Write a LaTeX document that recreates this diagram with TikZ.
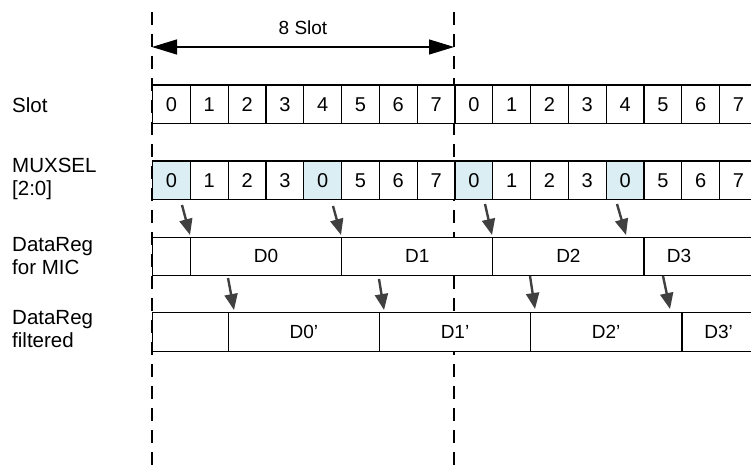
\documentclass[tikz,border=0pt]{standalone}
\usepackage{fontspec}
\setmainfont{Liberation Sans}
\usetikzlibrary{arrows.meta,positioning}

\definecolor{selblue}{HTML}{DBEEF3}
\definecolor{arrgray}{HTML}{404040}

\tikzset{
  cell/.style={draw, line width=1.2pt, minimum width=37.8pt, minimum height=38.5pt, inner sep=0pt, anchor=north west, font=\fontsize{20}{23}\selectfont},
  dbox/.style={draw, line width=1.2pt, fill=white, minimum height=38.5pt, inner sep=0pt, anchor=north west, font=\fontsize{19}{22}\selectfont},
  rowlabel/.style={anchor=north west, align=left, inner sep=0pt, font=\fontsize{20.5}{23}\selectfont},
  guide/.style={dash pattern=on 13pt off 9pt, line width=1.3pt},
  latch/.style={-{Triangle[length=16pt,width=13pt]}, line width=2.4pt, arrgray},
}

\begin{document}
\begin{tikzpicture}[x=1pt, y=-1pt]
    \path[use as bounding box, clip](0,0)rectangle(751,465);
    % guides
    \coordinate(g0t)at(152,12); \coordinate(g0b)at(152,465);
    \coordinate(g1t)at(454,12); \coordinate(g1b)at(454,465);
    \path[draw, guide](g0t)to(g0b);
    \path[draw, guide](g1t)to(g1b);
    % 8 slot span
    \coordinate(w0)at(152,47); \coordinate(w1)at(454,47);
    \path[draw, line width=1.2pt, {Triangle[length=25pt,width=15pt]}-{Triangle[length=25pt,width=15pt]}](w0)to node[above=8pt, font=\fontsize{19}{22}\selectfont](span){8 Slot}(w1);
    % row labels
    \node[rowlabel](lslot)at(12,97){Slot};
    \node[rowlabel](lmux)at(12,158){MUXSEL\\{[2:0]}};
    \node[rowlabel](lmic)at(12,237){DataReg\\for MIC};
    \node[rowlabel](lfil)at(12,310){DataReg\\filtered};
    % slot
    \foreach \i in {0,...,15}{
        \pgfmathtruncatemacro\n{mod(\i,8)}
        \node[cell, fill=white](s\i)at(152+\i*37.8,84.5){\n};
    }
    % muxsel
    \foreach \v/\c [count=\i from 0] in {0/selblue,1/white,2/white,3/white,0/selblue,5/white,6/white,7/white,0/selblue,1/white,2/white,3/white,0/selblue,5/white,6/white,7/white}{
        \node[cell, fill=\c](m\i)at(152+\i*37.8,160.5){\v};
    }
    % datareg for MIC
    \foreach \a/\b/\t [count=\k from 0] in {0/1/{},1/5/D0,5/9/D1,9/13/D2,13/18/{}}{
        \node[dbox, minimum width=(\b-\a)*37.8pt](d\k)at(152+\a*37.8,236.5){\t};
    }
    \node[font=\fontsize{19}{22}\selectfont](d4t)at(679,255.5){D3};
    % datareg filtered
    \foreach \a/\b/\t [count=\k from 0] in {0/2/{},2/6/D0',6/10/D1',10/14/D2'}{
        \node[dbox, minimum width=(\b-\a)*37.8pt](f\k)at(152+\a*37.8,312){\t};
    }
    \node[dbox, minimum width=72pt](f4)at(682,312){D3'};
    % latch arrows
    \foreach \k/\xs/\ys/\xe/\ye in {1/182/205/190/235,2/333/206/341/235,3/485/204/492/235,4/617/204/626/235}{
        \coordinate(ma\k)at(\xs,\ys); \coordinate(mb\k)at(\xe,\ye);
        \path[draw, latch](ma\k)to(mb\k);
    }
    \foreach \k/\xs/\ys/\xe/\ye in {1/228/278/234/310,2/379/279/384/310,3/530/276/535/309,4/663/276/670/309}{
        \coordinate(fa\k)at(\xs,\ys); \coordinate(fb\k)at(\xe,\ye);
        \path[draw, latch](fa\k)to(fb\k);
    }
\end{tikzpicture}
\end{document}
